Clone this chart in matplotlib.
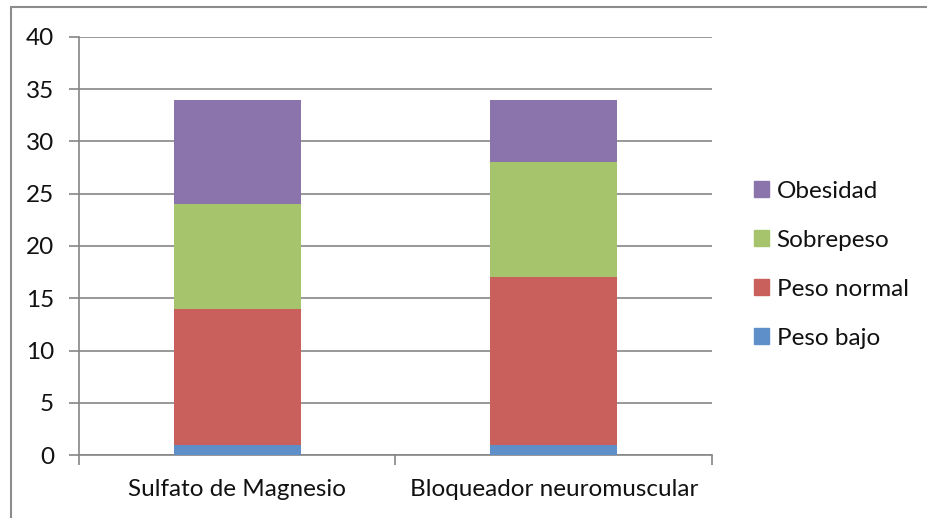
import numpy as np
import matplotlib.pyplot as plt
from matplotlib.patches import Rectangle, Patch

plt.rcParams['font.family'] = ['Lato', 'DejaVu Sans']

categorias = ['Sulfato de Magnesio', 'Bloqueador neuromuscular']
peso_bajo = [1, 1]
peso_normal = [13, 16]
sobrepeso = [10, 11]
obesidad = [10, 6]

series = [('Peso bajo', peso_bajo, '#5E8FC9'),
          ('Peso normal', peso_normal, '#C9605C'),
          ('Sobrepeso', sobrepeso, '#A6C46B'),
          ('Obesidad', obesidad, '#8B74AC')]

fig = plt.figure(figsize=(9.27, 5.18), dpi=100)
ax = fig.add_axes([0.0852, 0.1216, 0.6828, 0.807])

# borde exterior del gráfico
fig.patches.append(Rectangle((0.0115, -0.05), 1.2, 1.037, transform=fig.transFigure,
                             fill=False, edgecolor='#8c8c8c', linewidth=1.5))

x = np.arange(len(categorias))
base = np.zeros(len(categorias))
for nombre, valores, color in series:
    ax.bar(x, valores, width=0.4, bottom=base, color=color, label=nombre, zorder=3)
    base = base + np.array(valores)

ax.set_xlim(-0.5, 1.5)
ax.set_ylim(0, 40)
ax.set_yticks(range(0, 41, 5))
ax.set_xticks([-0.5, 0.5, 1.5])
ax.set_xticklabels([])
ax.set_xticks(x, minor=True)
ax.set_xticklabels(categorias, minor=True)
ax.tick_params(axis='x', which='minor', length=0, pad=17, labelsize=17.5, colors='#111111')
ax.tick_params(axis='x', which='major', length=7, color='#868686', width=1.2)
ax.tick_params(axis='y', length=7, color='#868686', width=1.2, labelsize=17.5,
               labelcolor='#111111', pad=11)

ax.grid(axis='y', color='#868686', linewidth=1.2, zorder=0)
for lado in ['top', 'right']:
    ax.spines[lado].set_visible(False)
ax.spines['left'].set_color('#868686')
ax.spines['bottom'].set_color('#868686')
ax.spines['left'].set_linewidth(1.2)
ax.spines['bottom'].set_linewidth(1.2)

handles = [Patch(color=c, label=n) for n, v, c in series[::-1]]
fig.legend(handles=handles, loc='center left', bbox_to_anchor=(0.79, 0.489),
           frameon=False, fontsize=17.5, handlelength=0.62, handleheight=0.62,
           handletextpad=0.3, labelspacing=1.15, labelcolor='#111111')

fig.savefig('out.png', dpi=100)
